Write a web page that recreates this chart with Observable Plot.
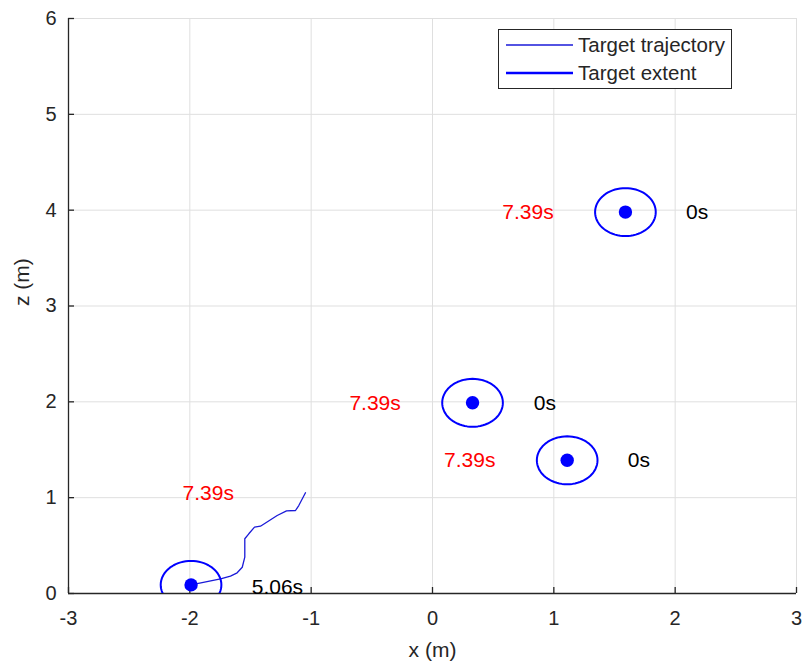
<!DOCTYPE html>
<html>
<head>
<meta charset="utf-8">
<script src="https://cdn.jsdelivr.net/npm/d3@7"></script>
<script src="https://cdn.jsdelivr.net/npm/@observablehq/plot@0.6"></script>
<style>
  html, body { margin: 0; padding: 0; background: #fff; }
  #wrap { position: relative; width: 803px; height: 662px; font-family: "Liberation Sans", Arial, sans-serif; }
  #legend {
    position: absolute; left: 498px; top: 29px; width: 232px; height: 58px;
    background: #fff; border: 1px solid #262626; box-sizing: content-box;
  }
  #legend .row { position: absolute; left: 0; height: 24px; display: flex; align-items: center; }
  #legend svg { display: block; margin-left: 7px; margin-right: 5px; }
  #legend span { font-size: 20.5px; color: #262626; line-height: 24px; }
</style>
</head>
<body>
<div id="wrap">
  <div id="chart"></div>
  <div id="legend"></div>
</div>
<script>
// Axis ticks (metres)
const xTicks = [-3, -2, -1, 0, 1, 2, 3];
const yTicks = [0, 1, 2, 3, 4, 5, 6];

// Target centres (x, z in metres) and their extent radius
const targetX = [1.59, 0.33, 1.11, -1.99];
const targetZ = [3.98, 1.99, 1.39, 0.09];
const extentRadius = 0.25;

// Recorded trajectory of the moving target
const trajX = [-1.99, -1.747, -1.665, -1.610, -1.568, -1.547, -1.547, -1.514, -1.467, -1.418, -1.357, -1.280, -1.203, -1.129, -1.102, -1.047];
const trajZ = [0.09, 0.153, 0.181, 0.216, 0.274, 0.379, 0.571, 0.623, 0.692, 0.702, 0.751, 0.814, 0.863, 0.866, 0.918, 1.051];

// Time annotations
const labelText = ["7.39s", "0s", "7.39s", "0s", "7.39s", "0s", "7.39s", "5.06s"];
const labelX = [0.575, 2.09, -0.685, 0.835, 0.095, 1.61, -2.06, -1.49];
const labelZ = [3.98, 3.98, 1.99, 1.99, 1.39, 1.39, 1.05, 0.06];
const labelColor = ["red", "black", "red", "black", "red", "black", "red", "black"];

const targets = targetX.map((x, i) => ({id: i, x, z: targetZ[i]}));
const trajectory = trajX.map((x, i) => ({x, z: trajZ[i]}));
const labels = labelText.map((t, i) => ({text: t, x: labelX[i], z: labelZ[i], color: labelColor[i]}));

// Outline of each target's extent as a closed polygon around its centre
const extent = targets.flatMap(t =>
  d3.range(0, 73).map(k => {
    const a = (k / 72) * 2 * Math.PI;
    return {id: t.id, x: t.x + extentRadius * Math.cos(a), z: t.z + extentRadius * Math.sin(a)};
  })
);

const frameH = 662 - 18 - 69;
const frameW = 803 - 68 - 7;
const axisColor = "#262626";
const gridColor = "#dfdfdf";
const blue = "#0000ff";

const chart = Plot.plot({
  width: 803,
  height: 662,
  marginTop: 18,
  marginRight: 7,
  marginBottom: 69,
  marginLeft: 68,
  style: {fontFamily: "'Liberation Sans', Arial, sans-serif", fontSize: "20px", color: axisColor, background: "#fff"},
  x: {domain: [-3, 3], ticks: xTicks, tickSize: 0, tickPadding: 17, label: null, tickFormat: d => String(d)},
  y: {domain: [0, 6], ticks: yTicks, tickSize: 0, tickPadding: 12, label: null, tickFormat: d => String(d)},
  marks: [
    Plot.ruleX(xTicks, {stroke: gridColor, strokeWidth: 1}),
    Plot.ruleY(yTicks, {stroke: gridColor, strokeWidth: 1}),
    Plot.ruleX([-3], {stroke: axisColor, strokeWidth: 1.3}),
    Plot.ruleY([0], {stroke: axisColor, strokeWidth: 1.3}),
    Plot.tickX(xTicks, {x: d => d, insetTop: frameH - 6, stroke: axisColor, strokeWidth: 1.3}),
    Plot.tickY(yTicks, {y: d => d, insetRight: frameW - 6, stroke: axisColor, strokeWidth: 1.3}),
    Plot.line(trajectory, {x: "x", y: "z", stroke: "#1a1ad8", strokeWidth: 1.3}),
    Plot.line(extent, {x: "x", y: "z", z: "id", stroke: blue, strokeWidth: 2, clip: true}),
    Plot.dot(targets, {x: "x", y: "z", r: 6.7, fill: blue, stroke: null}),
    Plot.text(labels, {x: "x", y: "z", text: "text", fill: "color", textAnchor: "start", lineAnchor: "middle", fontSize: 21}),
    Plot.text(["x (m)"], {text: d => d, frameAnchor: "bottom", lineAnchor: "middle", dy: 57, fontSize: 21, fill: axisColor}),
    Plot.text(["z (m)"], {text: d => d, frameAnchor: "left", rotate: -90, dx: -46, fontSize: 21, fill: axisColor})
  ]
});
document.getElementById("chart").appendChild(chart);

// Legend entries
const legendItems = [
  {label: "Target trajectory", width: 1.3, color: "#1a1ad8"},
  {label: "Target extent", width: 2.4, color: blue}
];
const legend = document.getElementById("legend");
legendItems.forEach((item, i) => {
  const row = document.createElement("div");
  row.className = "row";
  row.style.top = (3 + i * 28) + "px";
  row.innerHTML = `<svg width="67" height="10"><line x1="0" x2="67" y1="5" y2="5" stroke="${item.color}" stroke-width="${item.width}"/></svg><span>${item.label}</span>`;
  legend.appendChild(row);
});
</script>
</body>
</html>
